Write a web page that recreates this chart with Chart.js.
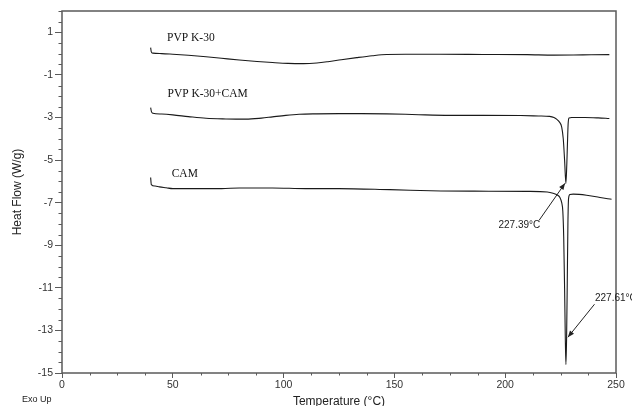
<!DOCTYPE html>
<html>
<head>
<meta charset="utf-8">
<script src="https://cdn.jsdelivr.net/npm/chart.js@4.4.0/dist/chart.umd.min.js"></script>
<style>
  html, body { margin: 0; padding: 0; background: #fff; }
</style>
</head>
<body>
<canvas id="chart" width="632" height="406"></canvas>
<script>
// DSC curves
const seriesNames = ["PVP K-30", "PVP K-30+CAM", "CAM"];

const pvpTemp = [40, 40.3, 41, 45, 50, 57, 65, 72, 80, 88, 95, 102, 109, 115, 120, 126, 133, 140, 146.5, 155, 170, 190, 210, 222, 235, 247];
const pvpFlow = [0.28, 0.08, 0.02, 0.0, -0.03, -0.08, -0.15, -0.22, -0.3, -0.37, -0.42, -0.46, -0.47, -0.44, -0.38, -0.29, -0.19, -0.1, -0.04, -0.03, -0.03, -0.04, -0.05, -0.07, -0.06, -0.05];

const mixTemp = [40, 40.4, 41, 45, 50, 57, 65, 74, 83, 90, 95, 101, 107, 115, 125, 135, 146.5, 155, 161, 175, 190, 207, 215, 220, 222, 223.2, 224.5, 225.5, 226.2, 226.8, 227.4, 227.8, 228.1, 228.4, 228.8, 230, 236, 242, 247];
const mixFlow = [-2.54, -2.74, -2.8, -2.84, -2.88, -2.96, -3.04, -3.07, -3.08, -3.03, -2.97, -2.9, -2.85, -2.83, -2.82, -2.82, -2.83, -2.85, -2.87, -2.9, -2.9, -2.91, -2.93, -2.95, -3.0, -3.08, -3.22, -3.45, -4.0, -5.0, -6.1, -5.2, -4.2, -3.3, -3.02, -3.0, -3.0, -3.02, -3.05];

const camTemp = [40, 40.3, 42, 44, 47, 50, 72, 80, 95, 110, 125, 148, 171, 186, 210, 219, 221.6, 223.5, 224.7, 225.5, 226.0, 226.4, 226.8, 227.1, 227.4, 227.7, 228.0, 228.3, 228.6, 229.2, 230.7, 236.7, 242.8, 248];
const camFlow = [-5.82, -6.15, -6.22, -6.26, -6.3, -6.34, -6.34, -6.31, -6.31, -6.34, -6.34, -6.39, -6.45, -6.46, -6.47, -6.5, -6.56, -6.64, -6.76, -7.0, -7.4, -8.6, -11.0, -13.2, -14.6, -13.4, -10.8, -8.0, -6.8, -6.62, -6.6, -6.65, -6.76, -6.84];

const peakLabels = ["227.39°C", "227.61°C"];

const xTickLabels = [0, 50, 100, 150, 200, 250];
const yTickLabels = [1, -1, -3, -5, -7, -9, -11, -13, -15];

const SANS = "'Liberation Sans', Arial, sans-serif";
const SERIF = "'Liberation Serif', 'Times New Roman', serif";

function toPoints(xs, ys) {
  return xs.map((x, i) => ({ x: x, y: ys[i] }));
}

function lineSet(label, xs, ys) {
  return {
    label: label,
    data: toPoints(xs, ys),
    borderColor: "#1a1a1a",
    borderWidth: 1.1,
    pointRadius: 0,
    fill: false,
    cubicInterpolationMode: "monotone",
  };
}

// frame, minor ticks, curve names and peak arrows
const extras = {
  id: "extras",
  afterDraw(chart) {
    const ctx = chart.ctx;
    const a = chart.chartArea;
    const xs = chart.scales.x;
    const ys = chart.scales.y;
    const px = (v) => xs.getPixelForValue(v);
    const py = (v) => ys.getPixelForValue(v);

    ctx.save();
    ctx.strokeStyle = "#5a5a5a";
    ctx.lineWidth = 1.5;
    ctx.strokeRect(a.left, a.top, a.right - a.left, a.bottom - a.top);

    // minor ticks
    ctx.lineWidth = 1;
    ctx.beginPath();
    for (let v = -14.5; v <= 2; v += 0.5) {
      if (yTickLabels.includes(v)) continue;
      const y = Math.round(py(v)) + 0.5;
      ctx.moveTo(a.left - 3.5, y);
      ctx.lineTo(a.left, y);
    }
    for (let v = 12.5; v < 250; v += 12.5) {
      if (xTickLabels.includes(v)) continue;
      const x = Math.round(px(v)) + 0.5;
      ctx.moveTo(x, a.bottom);
      ctx.lineTo(x, a.bottom + 2.5);
    }
    ctx.stroke();

    // curve names
    ctx.fillStyle = "#111";
    ctx.font = "11.5px " + SERIF;
    ctx.textBaseline = "middle";
    ctx.textAlign = "left";
    ctx.fillText(seriesNames[0], px(47.4), py(0.72));
    ctx.fillText(seriesNames[1], px(47.6), py(-1.91));
    ctx.fillText(seriesNames[2], px(49.5), py(-5.65));

    // peak annotations
    ctx.font = "10px " + SANS;
    ctx.fillStyle = "#222";
    ctx.textAlign = "center";
    ctx.fillText(peakLabels[0], px(206.4), py(-8.06));
    ctx.textAlign = "left";
    ctx.fillText(peakLabels[1], px(240.5), py(-11.49));

    arrow(ctx, px(215.3), py(-7.83), px(227.0), py(-6.09));
    arrow(ctx, px(240.3), py(-11.77), px(228.3), py(-13.32));

    ctx.font = "9px " + SANS;
    ctx.fillStyle = "#222";
    ctx.textAlign = "left";
    ctx.fillText("Exo Up", 22, 400);
    ctx.restore();
  },
};

function arrow(ctx, x0, y0, x1, y1) {
  const ang = Math.atan2(y1 - y0, x1 - x0);
  ctx.strokeStyle = "#222";
  ctx.fillStyle = "#222";
  ctx.lineWidth = 1;
  ctx.beginPath();
  ctx.moveTo(x0, y0);
  ctx.lineTo(x1, y1);
  ctx.stroke();
  const L = 7, W = 0.38;
  ctx.beginPath();
  ctx.moveTo(x1, y1);
  ctx.lineTo(x1 - L * Math.cos(ang - W), y1 - L * Math.sin(ang - W));
  ctx.lineTo(x1 - L * Math.cos(ang + W), y1 - L * Math.sin(ang + W));
  ctx.closePath();
  ctx.fill();
}

const ctx = document.getElementById("chart").getContext("2d");
new Chart(ctx, {
  type: "line",
  data: {
    datasets: [
      lineSet(seriesNames[0], pvpTemp, pvpFlow),
      lineSet(seriesNames[1], mixTemp, mixFlow),
      lineSet(seriesNames[2], camTemp, camFlow),
    ],
  },
  options: {
    responsive: false,
    animation: false,
    layout: { padding: { top: 11, right: 16, left: 0, bottom: 0 } },
    plugins: { legend: { display: false }, tooltip: { enabled: false } },
    scales: {
      x: {
        type: "linear",
        min: 0,
        max: 250,
        afterBuildTicks: (s) => { s.ticks = xTickLabels.map((v) => ({ value: v })); },
        afterFit: (s) => { s.height = 33; },
        ticks: { font: { family: SANS, size: 10.5 }, color: "#333", padding: 1, maxRotation: 0, autoSkip: false },
        grid: { display: true, drawOnChartArea: false, drawTicks: true, tickLength: 5, tickColor: "#5a5a5a", tickWidth: 1 },
        border: { display: false },
        title: {
          display: true,
          text: "Temperature (°C)",
          font: { family: SANS, size: 12 },
          color: "#222",
          padding: { top: 0, bottom: -3.2 },
        },
      },
      y: {
        type: "linear",
        min: -15,
        max: 2,
        afterBuildTicks: (s) => { s.ticks = yTickLabels.map((v) => ({ value: v })); },
        afterFit: (s) => { s.width = 62; },
        ticks: { font: { family: SANS, size: 10.5 }, color: "#333", padding: 2, autoSkip: false },
        grid: { display: true, drawOnChartArea: false, drawTicks: true, tickLength: 7, tickColor: "#5a5a5a", tickWidth: 1 },
        border: { display: false },
        title: {
          display: true,
          text: "Heat Flow (W/g)",
          font: { family: SANS, size: 12 },
          color: "#222",
          padding: { top: 10.3, bottom: 0 },
        },
      },
    },
  },
  plugins: [extras],
});
</script>
</body>
</html>
